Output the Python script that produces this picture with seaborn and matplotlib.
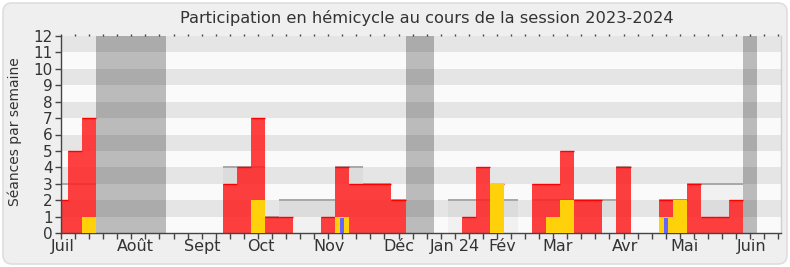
import numpy as np
import pandas as pd
import matplotlib
matplotlib.use("Agg")
import matplotlib.pyplot as plt
import seaborn as sns
from matplotlib.patches import FancyBboxPatch

# ---------------- data ----------------
title = "Participation en hémicycle au cours de la session 2023-2024"
ylabel = "Séances par semaine"
weeks = list(range(52))
presence = [2, 5, 7, 0, 0, 0, 0, 0, 0, 0, 0, 0, 3, 4, 7, 1, 1, 0, 0, 1, 4, 3, 3, 3, 2, 0,
            0, 0, 0, 1, 4, 3, 0, 0, 3, 3, 5, 2, 2, 0, 4, 0, 0, 2, 2, 3, 1, 1, 2, 0, 0, 0]
interventions = [0, 0, 1, 0, 0, 0, 0, 0, 0, 0, 0, 0, 0, 0, 2, 0, 0, 0, 0, 0, 1, 0, 0, 0, 0, 0,
                 0, 0, 0, 0, 0, 3, 0, 0, 0, 1, 2, 0, 0, 0, 0, 0, 0, 1, 2, 0, 0, 0, 0, 0, 0, 0]
questions = [0, 0, 0, 0, 0, 0, 0, 0, 0, 0, 0, 0, 0, 0, 0, 0, 0, 0, 0, 0, 0.9, 0, 0, 0, 0, 0,
             0, 0, 0, 0, 0, 0, 0, 0, 0, 0, 0, 0, 0, 0, 0, 0, 0, 0.9, 0, 0, 0, 0, 0, 0, 0, 0]
median = [3, 3, 3, 0, 0, 0, 0, 0, 0, 0, 0, 0, 4, 4, 4, 1, 2, 2, 2, 2, 4, 4, 3, 3, 2, 0,
          0, 0, 2, 2, 2, 2, 2, 0, 2, 2, 2, 2, 2, 2, 4, 0, 0, 2, 2, 3, 3, 3, 3, 0, 0, 0]
vacances = [3, 4, 5, 6, 7, 25, 26, 49]
month_labels = ["Juil", "Août", "Sept", "Oct", "Nov", "Déc", "Jan 24", "Fév",
                "Mar", "Avr", "Mai", "Juin"]
month_weeks = [0.1, 5.3, 10.05, 14.2, 19.05, 24.05, 28.0, 31.35, 35.3, 40.1, 44.35, 49.15]
ymax = 12

df = pd.DataFrame({"week": weeks, "presence": presence, "interventions": interventions,
                   "questions": questions, "median": median})

# ---------------- figure ----------------
sns.set_theme(style="white")
plt.rcParams["font.family"] = ["DejaVu Sans"]

W, H = 790, 267
fig = plt.figure(figsize=(W / 100, H / 100), dpi=100, facecolor="white")
bg = FancyBboxPatch((3, 3), W - 6, H - 6, boxstyle="round,pad=0,rounding_size=9",
                    transform=None, facecolor="#efefef", edgecolor="#dedede", lw=1.2, zorder=-10)
fig.patches.append(bg)

ax = fig.add_axes([61 / W, 34 / H, 720 / W, 197 / H])
ax.set_zorder(5)
ax.set_facecolor("#fafafa")

# alternating bands
for y in range(1, ymax, 2):
    ax.axhspan(y, y + 1, color="#e5e5e5", lw=0, zorder=0)

# vacations
for v in vacances:
    ax.axvspan(v - 0.5, v + 0.5, color="black", alpha=0.25, lw=0, zorder=1)

# median fill + line
sns.barplot(data=df, x="week", y="median", native_scale=True, width=1, color="black",
            alpha=0.035, linewidth=0, errorbar=None, ax=ax, zorder=1.2)
m = df[df["median"] > 0]
ax.hlines(m["median"], m["week"] - 0.5, m["week"] + 0.5, color="#a8a8a8", lw=1.4, zorder=1.5)

# presence (red)
sns.barplot(data=df, x="week", y="presence", native_scale=True, width=1, color="#ff1f1f",
            alpha=0.85, linewidth=0, errorbar=None, ax=ax, zorder=2, saturation=1)
p = df[df["presence"] > 0]
ax.hlines(p["presence"], p["week"] - 0.5, p["week"] + 0.5, color="#ff0000", lw=1.0, zorder=2.1)

# interventions (yellow)
sns.barplot(data=df, x="week", y="interventions", native_scale=True, width=1, color="#ffd10a",
            linewidth=0, errorbar=None, ax=ax, zorder=3, saturation=1)

# questions (blue)
sns.barplot(data=df, x="week", y="questions", native_scale=True, width=0.28, color="#6464ff",
            linewidth=0, errorbar=None, ax=ax, zorder=4, saturation=1)

ax.set_xlim(0, 51.2)
ax.set_ylim(0, ymax)
ax.set_xlabel("")
ax.set_ylabel("")

# ticks
ax.set_yticks(range(ymax + 1))
ax.set_yticklabels([str(i) for i in range(ymax + 1)], fontsize=11, color="#333333")
ax.tick_params(axis="y", which="major", left=True, length=4, width=1, color="#444444", pad=2)

ax.xaxis.remove_overlapping_locs = False
ax.set_xticks(weeks)
ax.set_xticklabels([])
ax.set_xticks(month_weeks, minor=True)
ax.set_xticklabels(month_labels, minor=True, fontsize=11.5, color="#333333")
ax.tick_params(axis="x", which="major", bottom=True, top=True, direction="out",
               length=4, width=1, color="#444444")
ax.tick_params(axis="x", which="minor", bottom=True, top=False, length=0, pad=4)

for s in ["left", "bottom"]:
    ax.spines[s].set_color("#444444")
    ax.spines[s].set_linewidth(1)
ax.spines["top"].set_visible(False)
ax.spines["right"].set_color("#cfcfcf")
ax.spines["right"].set_linewidth(1)

# top: only tiny dots
for t in ax.xaxis.get_major_ticks():
    t.tick2line.set_markersize(1.2)

fig.text(427 / W, 1 - 18 / H, title, ha="center", va="center", fontsize=11.7, color="#333333")
fig.text(15 / W, 1 - 132 / H, ylabel, ha="center", va="center", rotation=90,
         fontsize=10, color="#333333")

fig.savefig("out.png", dpi=100, facecolor=fig.get_facecolor())
